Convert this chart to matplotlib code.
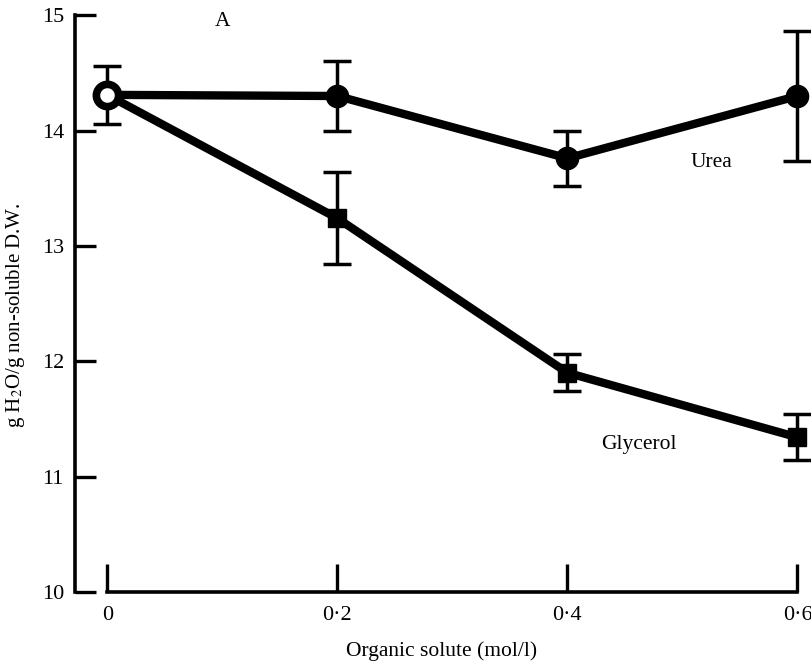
import matplotlib.pyplot as plt

plt.rcParams['font.family'] = ['Liberation Serif', 'DejaVu Serif']
plt.rcParams['mathtext.fontset'] = 'stix'

conc = [0, 0.2, 0.4, 0.6]
urea = [14.31, 14.30, 13.76, 14.30]
urea_err = [0.25, 0.30, 0.24, 0.56]
glyc = [14.31, 13.24, 11.90, 11.34]
glyc_err = [0.25, 0.40, 0.16, 0.20]

fig = plt.figure(figsize=(8.11, 6.65), dpi=100)
ax = fig.add_axes([0.0925, 0.11, 0.905, 0.867])

bar_kw = dict(fmt='none', ecolor='black', elinewidth=2.5, capsize=10,
              capthick=2.5, zorder=3, clip_on=False)

# glycerol: squares
ax.plot(conc, glyc, color='black', lw=6, zorder=2, solid_capstyle='round')
ax.errorbar(conc[1:], glyc[1:], yerr=glyc_err[1:], **bar_kw)
ax.plot(conc[1:], glyc[1:], 's', color='black', ms=13, zorder=4,
        clip_on=False)

# urea: filled circles
ax.plot(conc, urea, color='black', lw=6, zorder=2, solid_capstyle='round')
ax.errorbar(conc, urea, yerr=urea_err, **bar_kw)
ax.plot(conc[1:], urea[1:], 'o', color='black', ms=16, zorder=4,
        clip_on=False)

# shared control point, open centre
ax.plot(conc[0], urea[0], 'o', mfc='white', mec='black', mew=5.5, ms=16,
        zorder=5, clip_on=False)

ax.set_xlim(-0.028, 0.61)
ax.set_ylim(10, 15)
ax.spines['top'].set_visible(False)
ax.spines['right'].set_visible(False)
ax.spines['left'].set_linewidth(2.6)
ax.spines['bottom'].set_linewidth(2.6)
ax.spines['left'].set_bounds(10, 15)
ax.spines['bottom'].set_bounds(0, 0.6)

ax.set_xticks(conc)
ax.set_xticklabels(['0', '0·2', '0·4', '0·6'])
ax.set_yticks([10, 11, 12, 13, 14, 15])
ax.tick_params(axis='x', direction='in', length=20, width=2.4, pad=10,
               labelsize=16)
ax.tick_params(axis='y', direction='in', length=15, width=2.4, pad=8,
               labelsize=16)

ax.set_xlabel('Organic solute (mol/l)', fontsize=15.5, labelpad=12)
ax.set_ylabel('g H$_2$O/g non-soluble D.W.', fontsize=15)
ax.yaxis.set_label_coords(-0.066, 0.48)

ax.text(0.1, 14.95, 'A', fontsize=15.5, ha='center', va='center')
ax.text(0.525, 13.72, 'Urea', fontsize=15.5, ha='center', va='center')
ax.text(0.462, 11.28, 'Glycerol', fontsize=15.5, ha='center', va='center')

fig.savefig('out.png', dpi=100)
